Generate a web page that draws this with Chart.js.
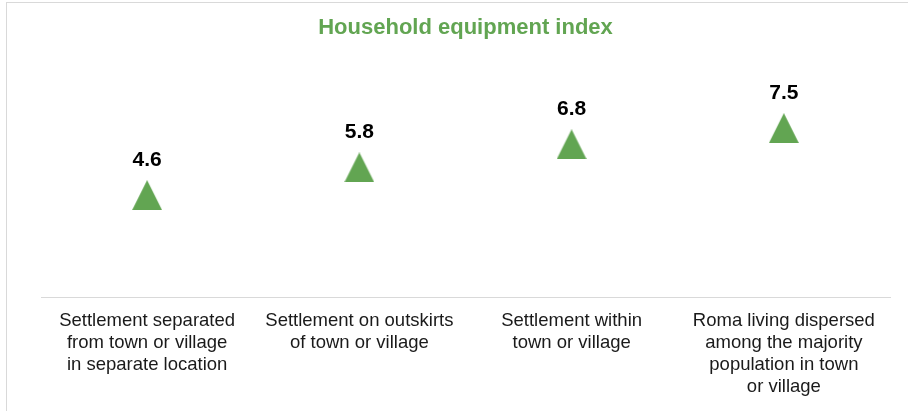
<!DOCTYPE html>
<html>
<head>
<meta charset="utf-8">
<script src="https://cdn.jsdelivr.net/npm/chart.js@4/dist/chart.umd.min.js"></script>
<style>
  html, body { margin: 0; padding: 0; background: #fff; }
  #wrap { position: relative; width: 908px; height: 411px; }
  #frame { position: absolute; left: 6px; top: 2px; right: -10px; bottom: -10px;
           border-left: 1px solid #d9d9d9; border-top: 1px solid #d9d9d9; pointer-events: none; }
</style>
</head>
<body>
<div id="wrap">
  <canvas id="myChart" width="908" height="411"></canvas>
  <div id="frame"></div>
</div>
<script>
const categories = [
  ['Settlement separated', 'from town or village', 'in separate location'],
  ['Settlement on outskirts', 'of town or village'],
  ['Settlement within', 'town or village'],
  ['Roma living dispersed', 'among the majority', 'population in town', 'or village']
];
const indexValues = [4.6, 5.8, 6.8, 7.5];

const green = '#62a552';
const fontFamily = '"Liberation Sans", Arial, sans-serif';

// triangle marker, 30 x 30
const tri = document.createElement('canvas');
tri.width = 30;
tri.height = 30;
const tctx = tri.getContext('2d');
tctx.fillStyle = green;
tctx.beginPath();
tctx.moveTo(15, 0);
tctx.lineTo(30, 30);
tctx.lineTo(0, 30);
tctx.closePath();
tctx.fill();

const valueLabels = {
  id: 'valueLabels',
  afterDatasetsDraw(chart) {
    const ctx = chart.ctx;
    const meta = chart.getDatasetMeta(0);
    ctx.save();
    ctx.font = 'bold 21px ' + fontFamily;
    ctx.fillStyle = '#000';
    ctx.textAlign = 'center';
    ctx.textBaseline = 'middle';
    meta.data.forEach((pt, i) => {
      ctx.fillText(indexValues[i].toFixed(1), pt.x, pt.y - 35);
    });
    ctx.restore();
  }
};

const ctx = document.getElementById('myChart');
const myChart = new Chart(ctx, {
  type: 'line',
  data: {
    labels: categories,
    datasets: [{
      label: 'Household equipment index',
      data: indexValues,
      showLine: false,
      pointStyle: tri,
      pointRadius: 15,
      pointHoverRadius: 15,
    }]
  },
  options: {
    responsive: false,
    animation: false,
    events: [],
    layout: {
      padding: { left: 41, right: 18, top: 0, bottom: 1 }
    },
    plugins: {
      legend: { display: false },
      tooltip: { enabled: false },
      title: {
        display: true,
        text: 'Household equipment index',
        color: green,
        font: { family: fontFamily, size: 22, weight: 'bold', lineHeight: 1.2 },
        padding: { top: 15, bottom: 29 }
      }
    },
    scales: {
      x: {
        offset: true,
        grid: { display: false, drawTicks: false },
        border: { display: true, color: '#d9d9d9', width: 1 },
        ticks: {
          color: '#1a1a1a',
          padding: 12,
          maxRotation: 0,
          autoSkip: false,
          font: { family: fontFamily, size: 18.5, lineHeight: 1.19 }
        }
      },
      y: {
        display: false,
        min: 0.15,
        max: 10
      }
    }
  },
  plugins: [valueLabels]
});
</script>
</body>
</html>
